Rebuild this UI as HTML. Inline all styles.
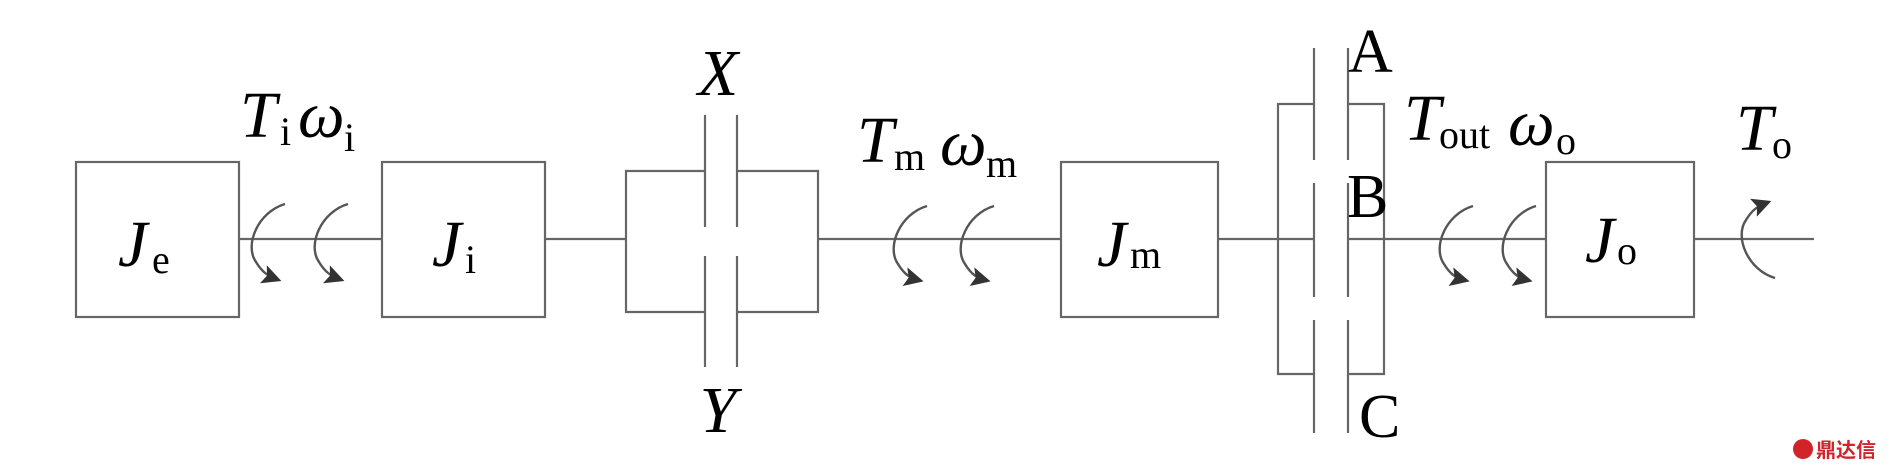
<!DOCTYPE html>
<html><head><meta charset="utf-8"><style>
html,body{margin:0;padding:0;background:#fff;}
svg{display:block}
.T{font-family:"Liberation Serif",serif;font-style:italic;font-size:66px;fill:#000}
.s{font-family:"Liberation Serif",serif;font-size:40px;fill:#000}
.L{font-family:"Liberation Serif",serif;font-size:62px;fill:#000}
</style></head><body>
<svg width="1890" height="472" viewBox="0 0 1890 472" xmlns="http://www.w3.org/2000/svg">
<defs>
<marker id="ah" viewBox="0 0 10 10" refX="7" refY="5" markerWidth="9" markerHeight="8" orient="auto" markerUnits="strokeWidth"><path d="M0,0 L10,5 L0,10 L2,5 Z" fill="#333"/></marker>
</defs>
<g stroke="#666" stroke-width="2.2" fill="none">
<line x1="239" y1="239" x2="382" y2="239"/>
<line x1="545" y1="239" x2="626" y2="239"/>
<line x1="818" y1="239" x2="1061" y2="239"/>
<line x1="1218" y1="239" x2="1314" y2="239"/>
<line x1="1348" y1="239" x2="1546" y2="239"/>
<line x1="1694" y1="239" x2="1814" y2="239"/>
<rect x="76" y="162" width="163" height="155"/>
<rect x="382" y="162" width="163" height="155"/>
<rect x="1061" y="162" width="157" height="155"/>
<rect x="1546" y="162" width="148" height="155"/>
<polyline points="705,171 626,171 626,312 705,312"/>
<polyline points="737,171 818,171 818,312 737,312"/>
<line x1="705" y1="115" x2="705" y2="227"/><line x1="705" y1="256" x2="705" y2="367"/>
<line x1="737" y1="115" x2="737" y2="227"/><line x1="737" y1="256" x2="737" y2="367"/>
<polyline points="1314,104 1278,104 1278,374 1314,374"/>
<polyline points="1348,104 1384,104 1384,374 1348,374"/>
<line x1="1314" y1="48" x2="1314" y2="160"/><line x1="1314" y1="183" x2="1314" y2="297"/><line x1="1314" y1="320" x2="1314" y2="433"/>
<line x1="1348" y1="48" x2="1348" y2="160"/><line x1="1348" y1="183" x2="1348" y2="297"/><line x1="1348" y1="320" x2="1348" y2="433"/>
</g>
<g stroke="#555" stroke-width="2.4" fill="none" marker-end="url(#ah)">
<path d="M285,204 C258,212 244,245 256,262 C262,272 268,276 276,279"/>
<path d="M348,204 C321,212 307,245 319,262 C325,272 331,276 339,279"/>
<path d="M927,206 C900,214 886,247 898,264 C904,274 910,278 918,280"/>
<path d="M994,206 C967,214 953,247 965,264 C971,274 977,278 985,280"/>
<path d="M1473,206 C1446,214 1432,247 1444,264 C1450,274 1456,278 1464,280"/>
<path d="M1536,206 C1509,214 1495,247 1507,264 C1513,274 1519,278 1527,280"/>
<path d="M1775,278 C1748,270 1734,237 1746,220 C1752,210 1758,206 1766,203"/>
</g>
<text class="T" x="118" y="266">J</text><text class="s" x="152" y="273">e</text>
<text class="T" x="432" y="266">J</text><text class="s" x="465" y="273">i</text>
<text class="T" x="1097" y="266">J</text><text class="s" x="1130" y="268">m</text>
<text class="T" x="1585" y="262">J</text><text class="s" x="1617" y="264">o</text>
<text class="T" x="240" y="137">T</text><text class="s" x="280" y="145">i</text>
<text class="T" x="298" y="137">ω</text><text class="s" x="344" y="151">i</text>
<text class="T" x="857" y="162">T</text><text class="s" x="894" y="170">m</text>
<text class="T" x="940" y="165">ω</text><text class="s" x="986" y="177">m</text>
<text class="T" x="1404" y="140">T</text><text class="s" x="1439" y="148">out</text>
<text class="T" x="1508" y="145">ω</text><text class="s" x="1556" y="154">o</text>
<text class="T" x="1736" y="150">T</text><text class="s" x="1772" y="158">o</text>
<text class="T" x="718" y="95" text-anchor="middle">X</text>
<text class="T" x="718" y="432" text-anchor="middle">Y</text>
<text class="L" x="1348" y="72">A</text>
<text class="L" x="1347" y="217">B</text>
<text class="L" x="1359" y="437">C</text>
<circle cx="1803" cy="449" r="10" fill="#d0232a"/>
<text x="1816" y="457" style="font-family:'Liberation Sans','Noto Sans CJK SC',sans-serif;font-weight:bold;font-size:20px;fill:#d0232a">鼎达信</text>
</svg>
</body></html>
